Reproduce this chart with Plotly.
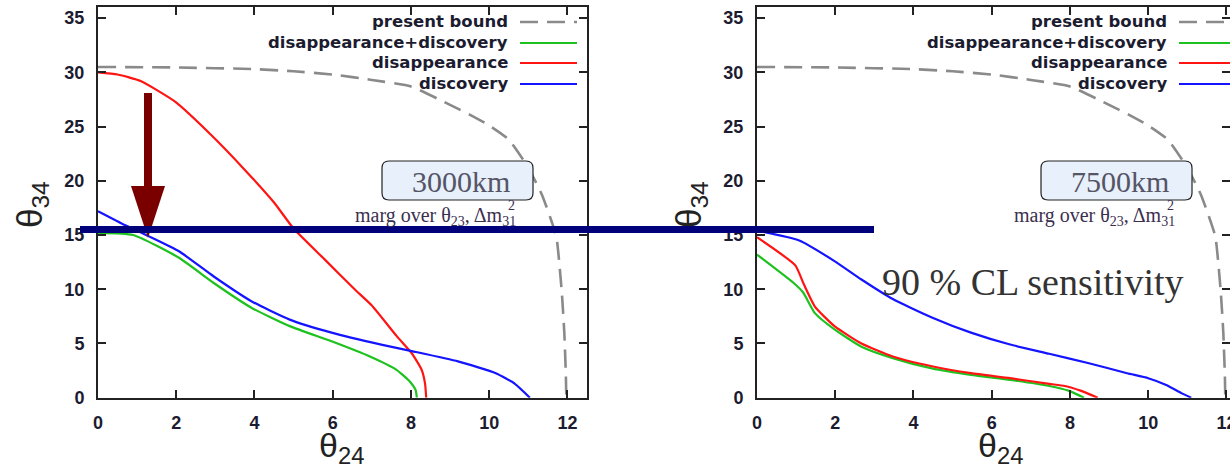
import plotly.graph_objects as go

W, H = 1230, 469

# ---------------- data ----------------
x_ticks = [0, 2, 4, 6, 8, 10, 12]
y_ticks = [0, 5, 10, 15, 20, 25, 30, 35]

series_names = ["present bound", "disappearance+discovery", "disappearance", "discovery"]

# present bound (same in both panels)
bound_x = [0, 2, 4, 5, 6, 7, 8, 9, 9.5, 10, 10.5, 11, 11.35, 11.6, 11.72, 11.85, 11.92, 11.96, 11.97]
bound_y = [30.5, 30.45, 30.3, 30.1, 29.8, 29.3, 28.7, 27.0, 26.1, 25.1, 23.8, 21.2, 18.7, 16.2, 14.8, 10.0, 6.0, 2.0, 0.0]

# 3000 km panel
l_comb_x = [0, 0.9, 2.07, 2.95, 3.92, 4.9, 5.97, 6.95, 7.63, 7.97, 8.12, 8.15]
l_comb_y = [15.2, 15.0, 12.9, 10.6, 8.3, 6.6, 5.2, 3.8, 2.57, 1.5, 0.7, 0.0]
l_dis_x = [0, 0.5, 1.09, 1.97, 2.9, 3.73, 4.5, 5.0, 5.78, 6.56, 7.0, 7.63, 8.02, 8.27, 8.36, 8.39]
l_dis_y = [30.0, 29.8, 29.2, 27.3, 24.2, 21.1, 18.0, 15.6, 12.8, 10.0, 8.5, 5.7, 4.1, 2.6, 1.3, 0.0]
l_disc_x = [0, 0.7, 1.29, 2.07, 2.95, 3.92, 4.9, 5.97, 7.24, 8.02, 9.2, 10.17, 10.65, 11.04]
l_disc_y = [17.2, 15.9, 14.9, 13.5, 11.2, 8.9, 7.2, 6.0, 4.9, 4.3, 3.35, 2.26, 1.3, 0.0]

# 7500 km panel
r_comb_x = [0, 0.93, 1.18, 1.48, 1.98, 2.67, 3.47, 4.47, 5.47, 6.47, 7.47, 7.96, 8.36]
r_comb_y = [13.2, 10.6, 9.7, 7.8, 6.3, 4.7, 3.65, 2.7, 2.1, 1.64, 1.08, 0.65, 0.0]
r_dis_x = [0, 0.98, 1.18, 1.48, 1.98, 2.67, 3.47, 4.47, 5.47, 6.47, 7.47, 7.87, 8.27, 8.71]
r_dis_y = [14.8, 12.2, 10.6, 8.4, 6.6, 5.0, 3.8, 2.9, 2.26, 1.8, 1.27, 1.08, 0.65, 0.0]
r_disc_x = [0, 1.08, 1.98, 2.67, 3.47, 4.47, 5.47, 6.47, 7.47, 8.46, 9.46, 10.0, 10.46, 10.86, 11.1]
r_disc_y = [15.4, 14.5, 12.6, 10.9, 9.1, 7.4, 6.0, 4.9, 4.05, 3.2, 2.26, 1.8, 1.18, 0.4, 0.0]

panel_labels = ["3000km", "7500km"]
marg_text = "marg over θ<sub>23</sub>, Δm<sub>31</sub>"
cl_text = "90 % CL sensitivity"

# ---------------- styles ----------------
C_BOUND = "#8a8a8a"
C_GREEN = "#1ec21e"
C_RED = "#ff1414"
C_BLUE = "#1414ff"
FRAME = "#222222"
TXT = "#1c1c30"


def px(x):
    return x / W


def py(y):
    return 1 - y / H


fig = go.Figure()

panels = [
    ("x", "y", (l_comb_x, l_comb_y), (l_dis_x, l_dis_y), (l_disc_x, l_disc_y)),
    ("x2", "y2", (r_comb_x, r_comb_y), (r_dis_x, r_dis_y), (r_disc_x, r_disc_y)),
]
for xa, ya, comb, dis, disc in panels:
    fig.add_trace(go.Scatter(x=bound_x, y=bound_y, xaxis=xa, yaxis=ya, mode="lines",
                             line=dict(color=C_BOUND, width=2.6, dash="18px,9px", shape="spline", smoothing=0.5),
                             name=series_names[0], showlegend=False, hoverinfo="skip"))
    fig.add_trace(go.Scatter(x=comb[0], y=comb[1], xaxis=xa, yaxis=ya, mode="lines",
                             line=dict(color=C_GREEN, width=2.2, shape="spline", smoothing=0.5),
                             name=series_names[1], showlegend=False))
    fig.add_trace(go.Scatter(x=dis[0], y=dis[1], xaxis=xa, yaxis=ya, mode="lines",
                             line=dict(color=C_RED, width=2.2, shape="spline", smoothing=0.5),
                             name=series_names[2], showlegend=False))
    fig.add_trace(go.Scatter(x=disc[0], y=disc[1], xaxis=xa, yaxis=ya, mode="lines",
                             line=dict(color=C_BLUE, width=2.2, shape="spline", smoothing=0.5),
                             name=series_names[3], showlegend=False))

X0_L, X0_R = 98, 757
PX_PER_X = 39.12
Y_BOT, Y_TOP = 397.7, 7.3

axis_common = dict(
    showgrid=False, zeroline=False, showline=True, linecolor=FRAME, linewidth=2,
    mirror="ticks", ticks="inside", ticklen=8, tickwidth=1.5, tickcolor=FRAME,
    tickfont=dict(family="Liberation Sans", size=18, color=TXT, weight="bold"),
    automargin=False,
)

fig.update_layout(
    width=W, height=H, margin=dict(l=0, r=0, t=0, b=0),
    paper_bgcolor="white", plot_bgcolor="white", showlegend=False,
    xaxis=dict(axis_common, domain=[px(X0_L), px(587)], range=[0, (587 - X0_L) / PX_PER_X],
               tickvals=x_ticks, anchor="y", ticklabelstandoff=8),
    yaxis=dict(axis_common, domain=[py(Y_BOT), py(Y_TOP)], range=[0, 36],
               tickvals=y_ticks, anchor="x", ticklabelstandoff=8),
    xaxis2=dict(axis_common, domain=[px(X0_R), 1], range=[0, (W - X0_R) / PX_PER_X],
                tickvals=x_ticks, anchor="y2", ticklabelstandoff=8, ticklabeloverflow="allow"),
    yaxis2=dict(axis_common, domain=[py(Y_BOT), py(Y_TOP)], range=[0, 36],
                tickvals=y_ticks, anchor="x2", ticklabelstandoff=8),
)

shapes = []
annotations = []


def rounded_box(x0, y0, x1, y1, r):
    pts = [
        f"M {px(x0 + r)},{py(y0)}", f"L {px(x1 - r)},{py(y0)}",
        f"Q {px(x1)},{py(y0)} {px(x1)},{py(y0 + r)}", f"L {px(x1)},{py(y1 - r)}",
        f"Q {px(x1)},{py(y1)} {px(x1 - r)},{py(y1)}", f"L {px(x0 + r)},{py(y1)}",
        f"Q {px(x0)},{py(y1)} {px(x0)},{py(y1 - r)}", f"L {px(x0)},{py(y0 + r)}",
        f"Q {px(x0)},{py(y0)} {px(x0 + r)},{py(y0)}", "Z",
    ]
    return " ".join(pts)


legend_colors = [C_BOUND, C_GREEN, C_RED, C_BLUE]
legend_rows = [22, 43, 63, 84]

for k, off in enumerate([0, X0_R - X0_L]):
    # legend
    for name, col, yy in zip(series_names, legend_colors, legend_rows):
        annotations.append(dict(xref="paper", yref="paper", x=px(510 + off), y=py(yy),
                                xanchor="right", yanchor="middle", showarrow=False,
                                text=f"<b>{name}</b>",
                                font=dict(family="DejaVu Sans", size=16.5, color=TXT)))
        ln = dict(type="line", xref="paper", yref="paper",
                  x0=px(520 + off), x1=px(577 + off), y0=py(yy), y1=py(yy),
                  line=dict(color=col, width=2.6 if col == C_BOUND else 2.2,
                            dash="18px,9px" if col == C_BOUND else "solid"))
        shapes.append(ln)
    # baseline box
    shapes.append(dict(type="path", xref="paper", yref="paper",
                       path=rounded_box(382 + off, 161, 533 + off, 200, 7),
                       fillcolor="#e7f0fb", line=dict(color="#222222", width=1.2), layer="above"))
    annotations.append(dict(xref="paper", yref="paper", x=px(461 + off), y=py(181),
                            xanchor="center", yanchor="middle", showarrow=False,
                            text=panel_labels[k],
                            font=dict(family="Liberation Serif", size=30, color="#555566")))
    annotations.append(dict(xref="paper", yref="paper", x=px(518 + off), y=py(216),
                            xanchor="right", yanchor="middle", showarrow=False,
                            text=marg_text,
                            font=dict(family="Liberation Serif", size=20, color="#3b2f4f")))
    annotations.append(dict(xref="paper", yref="paper", x=px(511 + off), y=py(206),
                            xanchor="center", yanchor="middle", showarrow=False,
                            text="2",
                            font=dict(family="Liberation Serif", size=14, color="#3b2f4f")))
    # axis titles
    annotations.append(dict(xref="paper", yref="paper", x=px(341 + off), y=py(447),
                            xanchor="center", yanchor="middle", showarrow=False,
                            text="θ<sub>24</sub>",
                            font=dict(family="Liberation Sans", size=34, color="#222222")))
    annotations.append(dict(xref="paper", yref="paper", x=px(32 + off), y=py(205),
                            xanchor="center", yanchor="middle", showarrow=False, textangle=-90,
                            text="θ<sub>34</sub>",
                            font=dict(family="Liberation Sans", size=35, color="#222222")))

annotations.append(dict(xref="paper", yref="paper", x=px(1033), y=py(282),
                        xanchor="center", yanchor="middle", showarrow=False, text=cl_text,
                        font=dict(family="Liberation Serif", size=38, color="#333333")))

# dark-red arrow
ARROW = "#7a0000"
shapes.append(dict(type="rect", xref="paper", yref="paper",
                   x0=px(144), x1=px(152), y0=py(93), y1=py(190),
                   fillcolor=ARROW, line=dict(width=0), layer="above"))
shapes.append(dict(type="path", xref="paper", yref="paper",
                   path=f"M {px(131)},{py(186)} L {px(165)},{py(186)} L {px(148)},{py(238)} Z",
                   fillcolor=ARROW, line=dict(width=0), layer="above"))
# navy horizontal line
shapes.append(dict(type="line", xref="paper", yref="paper",
                   x0=px(80), x1=px(874), y0=py(229.5), y1=py(229.5),
                   line=dict(color="#00007a", width=7), layer="above"))

fig.update_layout(shapes=shapes, annotations=annotations)
fig.write_html("out.html", config={"displayModeBar": False},
               post_script="document.body.style.margin='0px';document.body.style.overflow='hidden';")
